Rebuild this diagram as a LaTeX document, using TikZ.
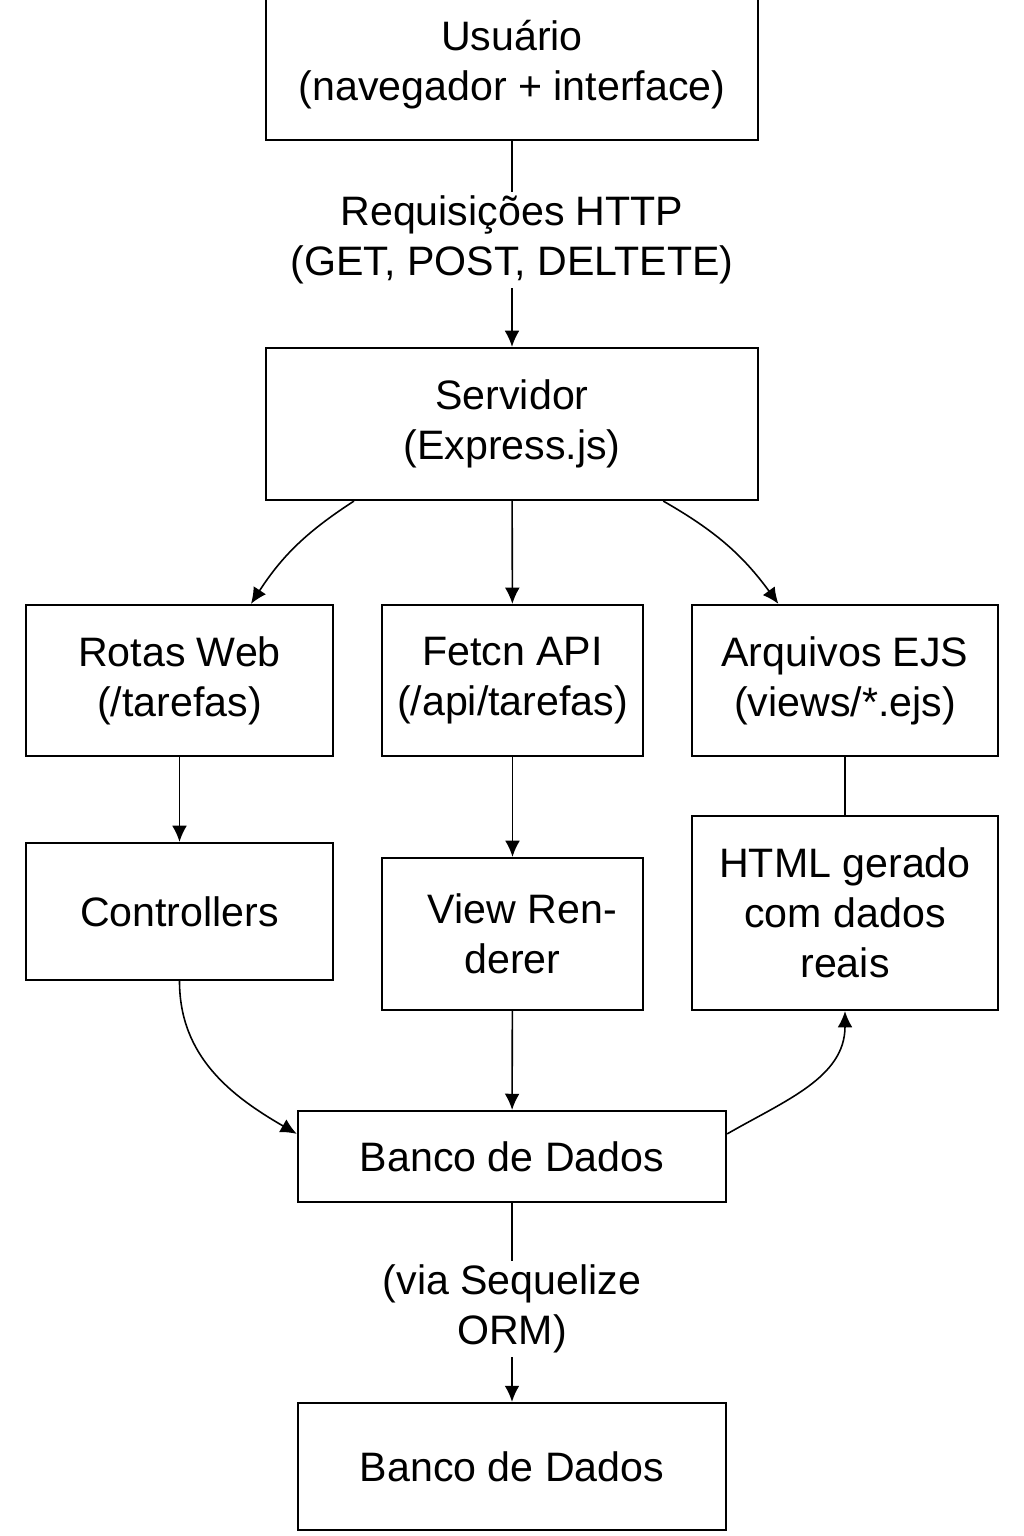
\documentclass[tikz,border=0pt]{standalone}
\usepackage{fontspec}
\setmainfont{Liberation Sans}
\usepackage{tikz}
\usetikzlibrary{positioning,arrows.meta}

\begin{document}
\begin{tikzpicture}[x=0.01cm,y=-0.01cm,
        block/.style = {draw, rectangle, line width=0.6pt, align=center, inner sep=0pt},
]
\tikzstyle{lbl}=[align=center, inner sep=1pt]
\tikzstyle{connect}=[-{Latex[length=4.6pt,width=4.2pt]}, line width=0.45pt]
\tikzstyle{plain}=[line width=0.45pt]

	\fontsize{11.7}{14.2}\selectfont
	\useasboundingbox (0,0) rectangle (1024,1536);

	% topo
	\node[block, minimum width=4.92cm, minimum height=1.5cm] (usr) at (512,65) {Usuário\\(navegador + interface)};
	\node[lbl] (req) at (512,240) {Requisições HTTP\\(GET, POST, DELTETE)};
	\node[block, minimum width=4.92cm, minimum height=1.52cm] (srv) at (512,424) {Servidor\\(Express.js)};

	% linha do meio
	\node[block, minimum width=3.07cm, minimum height=1.51cm] (rotas) at (179.5,680.5) {Rotas Web\\(/tarefas)};
	\node[block, minimum width=2.61cm, minimum height=1.51cm] (api) at (512.5,680.5) {Fetcn API\\(/api/tarefas)};
	\node[block, minimum width=3.06cm, minimum height=1.51cm] (ejs) at (845,680.5) {Arquivos EJS\\(views/*.ejs)};

	\node[block, minimum width=3.07cm, minimum height=1.37cm] (ctrl) at (179.5,911.5) {Controllers};
	\node[block, minimum width=2.61cm, minimum height=1.52cm] (view) at (512.5,934) {\hspace*{0.2cm}View Ren-\\derer};
	\node[block, minimum width=3.06cm, minimum height=1.94cm] (html) at (845,913) {HTML gerado\\com dados\\reais};

	% base
	\node[block, minimum width=4.28cm, minimum height=0.91cm] (db) at (512,1156.5) {Banco de Dados};
	\node[lbl] (orm) at (512,1309) {(via Sequelize\\ORM)};
	\node[block, minimum width=4.28cm, minimum height=1.27cm] (dbb) at (512,1466.5) {Banco de Dados};

	\path (usr) edge [plain] (req)
		(req) edge [connect] (srv)
		(srv.206.6) edge [connect, bend right=12] (rotas.47.8)
		(srv) edge [connect] (api)
		(srv.333.6) edge [connect, bend left=12] (ejs.131.6)
		(rotas) edge [connect] (ctrl)
		(api) edge [connect] (view)
		(ejs) edge [plain] (html)
		(ctrl.south) edge [connect, out=-90, in=150] (db.174)
		(view) edge [connect] (db)
		(db.6.5) edge [connect, out=30, in=-90] (html.south)
		(db) edge [plain] (orm)
		(orm) edge [connect] (dbb);

\end{tikzpicture}
\end{document}
